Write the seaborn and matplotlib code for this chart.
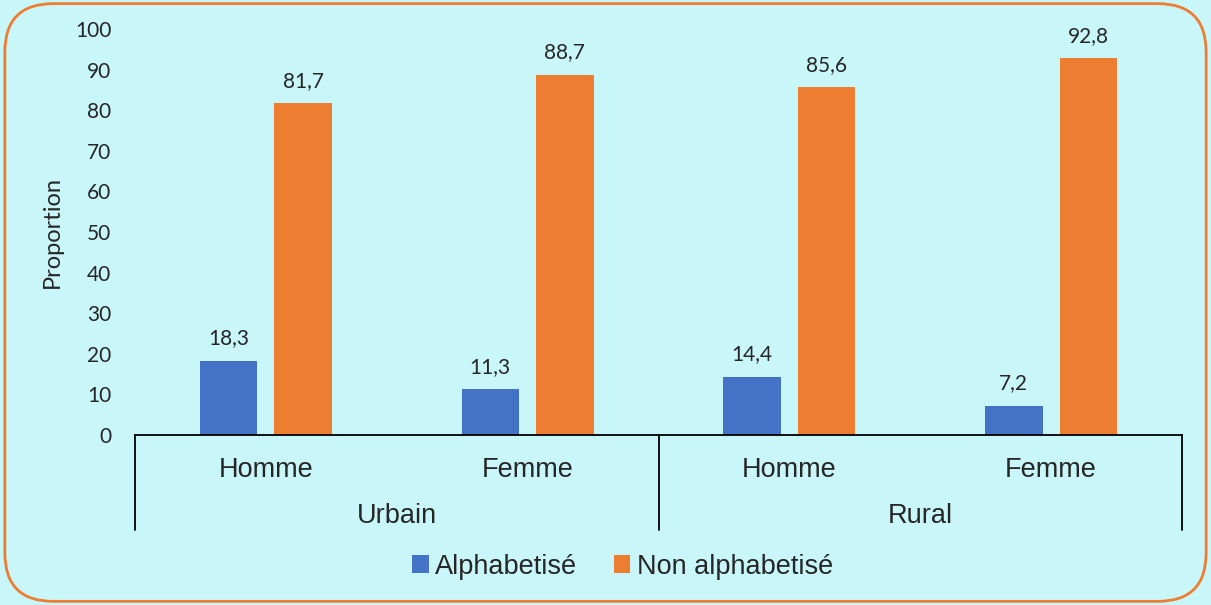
import seaborn as sns
import pandas as pd
import matplotlib.pyplot as plt
from matplotlib.patches import FancyBboxPatch

milieux = ['Urbain', 'Urbain', 'Rural', 'Rural']
sexes = ['Homme', 'Femme', 'Homme', 'Femme']
alphabetise = [18.3, 11.3, 14.4, 7.2]
non_alphabetise = [81.7, 88.7, 85.6, 92.8]
series = ['Alphabetisé', 'Non alphabetisé']
colors = ['#4472C4', '#ED7D31']
bg = '#C9F6F8'

rows = []
for i in range(4):
    key = milieux[i] + ' ' + sexes[i] + str(i)
    rows.append([key, series[0], alphabetise[i]])
    rows.append([key, series[1], non_alphabetise[i]])
df = pd.DataFrame(rows, columns=['cat', 'statut', 'valeur'])

sns.set_style('white')
fig = plt.figure(figsize=(12.11, 6.05), dpi=100)
fig.patch.set_facecolor(bg)
ax = fig.add_axes([135 / 1211, 1 - 435 / 605, (1182 - 135) / 1211, (435 - 29) / 605])
ax.set_facecolor(bg)

sns.barplot(data=df, x='cat', y='valeur', hue='statut', palette=colors,
            width=0.57, gap=0.23, ax=ax, legend=True, saturation=1,
            linewidth=0, edgecolor='none')

for cont in ax.containers:
    labs = [f"{b.get_height():.1f}".replace('.', ',') for b in cont]
    ax.bar_label(cont, labels=labs, padding=9, fontsize=15, family='Lato')

ax.set_ylim(0, 100)
ax.set_xlim(-0.5, 3.5)
ax.set_yticks(range(0, 101, 10))
ax.tick_params(axis='y', length=0, labelsize=15, pad=17)
for t in ax.get_yticklabels():
    t.set_family('Lato')
ax.set_xticks(range(4))
ax.set_xticklabels(sexes, fontsize=19.5, family='Liberation Sans')
ax.tick_params(axis='x', length=0, pad=16)
ax.set_xlabel('')
ax.set_ylabel('Proportion', fontsize=17, family='Lato', labelpad=9)

for s in ['left', 'right', 'top']:
    ax.spines[s].set_visible(False)
ax.spines['bottom'].set_color('black')
ax.spines['bottom'].set_linewidth(1.3)

trans = ax.get_xaxis_transform()
for xv in [-0.5, 1.5, 3.5]:
    ax.plot([xv, xv], [0, -0.234], color='black', lw=1.3, transform=trans, clip_on=False)
for xc, name in [(0.5, 'Urbain'), (2.5, 'Rural')]:
    ax.text(xc, -0.2, name, transform=trans, ha='center', va='center',
            fontsize=19.5, family='Liberation Sans')

leg = ax.legend(loc='center', bbox_to_anchor=(0.466, -0.324), bbox_transform=ax.transAxes,
                ncol=2, frameon=False, handlelength=0.6, handleheight=0.6,
                handletextpad=0.25, columnspacing=1.35,
                prop={'family': 'Liberation Sans', 'size': 19.5})

border = FancyBboxPatch((0.004, 0.006), 0.992, 0.988, boxstyle='round,pad=0,rounding_size=0.04',
                        transform=fig.transFigure, facecolor='none', edgecolor='#ED7D31',
                        lw=2, mutation_aspect=2.0)
fig.patches.append(border)

fig.savefig('out.png', dpi=100, facecolor=bg)
